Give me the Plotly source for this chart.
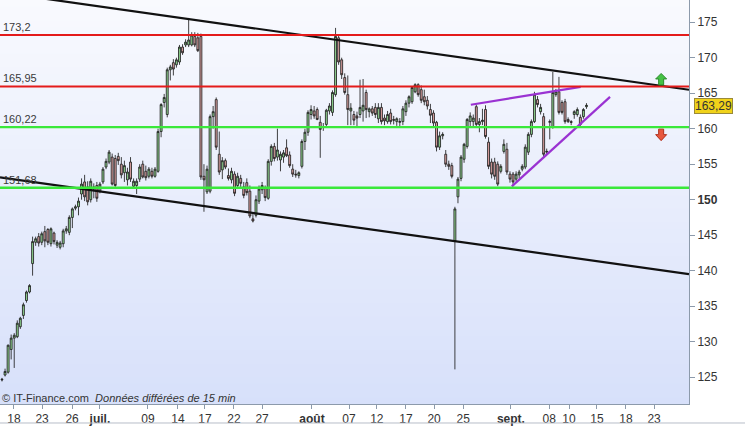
import plotly.graph_objects as go

# ---------------- data ----------------
opens = [124.6, 125.3, 125.7, 128.9, 130.5, 130.7, 132.1, 133.7, 135.8, 137.0,
         141.0, 144.0, 144.8, 144.0, 145.5, 145.8, 143.8, 145.3, 143.6, 143.3,
         143.8, 145.6, 145.4, 147.5, 148.8, 149.0, 150.8, 152.5, 151.8, 150.0,
         151.5, 152.0, 151.2, 152.5, 154.6, 155.3, 156.0, 155.8, 156.1, 155.0,
         153.8, 152.8, 155.3, 151.9, 152.0, 152.9, 155.0, 154.0, 153.3, 154.0,
         153.3, 154.0, 159.6, 163.7, 162.0, 168.3, 169.3, 169.0, 169.4, 171.5,
         171.8, 171.8, 171.8, 173.0, 172.8, 173.0, 153.3, 151.1, 151.2, 161.7,
         164.1, 156.4, 154.2, 155.5, 153.4, 152.8, 153.6, 152.0, 153.0, 151.8,
         152.4, 151.2, 147.3, 147.8, 149.8, 151.4, 151.6, 150.2, 155.4, 157.5,
         156.0, 155.6, 156.0, 157.3, 156.3, 154.3, 153.6, 153.4, 154.7, 158.2,
         159.5, 162.0, 162.5, 162.7, 160.9, 160.2, 160.6, 162.5, 162.3, 164.8,
         172.8, 169.7, 167.2, 164.8, 162.5, 162.0, 161.8, 162.0, 162.5, 165.1,
         162.4, 162.8, 163.0, 161.4, 163.0, 161.5, 161.0, 162.2, 161.3, 161.0,
         160.9, 161.0, 162.4, 163.6, 163.8, 165.2, 166.2, 165.5, 164.5, 164.0,
         162.7, 162.2, 160.9, 157.4, 159.0, 156.4, 155.0, 154.8, 144.2, 150.4,
         153.0, 155.7, 157.5, 161.0, 161.0, 163.1, 160.6, 161.0, 162.7, 158.1,
         155.3, 155.3, 155.0, 154.0, 156.8, 157.1, 153.6, 153.6, 152.9, 153.5,
         154.3, 154.6, 156.7, 159.2, 161.0, 164.1, 162.4, 161.7, 156.7, 160.9,
         160.3, 164.8, 165.2, 163.7, 163.8, 161.3, 161.0, 162.0, 162.0, 161.6,
         161.7, 163.1]
highs = [124.9, 126.2, 129.6, 131.0, 131.2, 133.0, 133.5, 135.5, 137.2, 138.1,
         144.8, 144.8, 145.3, 145.5, 146.3, 146.0, 146.1, 145.5, 144.3, 144.2,
         145.9, 146.3, 147.8, 148.9, 149.3, 150.3, 153.0, 153.5, 152.6, 153.0,
         152.3, 152.5, 152.5, 154.6, 155.8, 157.0, 156.5, 156.3, 156.6, 156.0,
         155.5, 154.5, 156.0, 153.0, 153.0, 155.0, 155.5, 154.8, 154.6, 154.5,
         154.6, 160.0, 163.6, 164.9, 168.6, 169.0, 169.8, 170.0, 171.8, 171.9,
         172.6, 175.6, 173.6, 173.6, 173.5, 173.4, 155.0, 154.8, 162.0, 163.2,
         164.4, 159.6, 156.0, 155.8, 154.4, 154.5, 154.0, 153.8, 153.5, 152.5,
         153.0, 152.0, 148.2, 150.6, 152.0, 152.5, 152.0, 155.7, 157.8, 158.0,
         160.0, 156.8, 157.0, 158.5, 156.8, 155.0, 154.2, 154.0, 158.5, 160.0,
         162.6, 163.3, 163.2, 163.0, 161.8, 160.8, 162.8, 163.6, 165.4, 174.2,
         173.2, 170.0, 167.8, 167.5, 163.6, 162.5, 162.4, 166.9, 167.0, 165.5,
         163.0, 163.2, 163.6, 163.6, 163.6, 162.0, 162.5, 162.8, 161.8, 161.6,
         161.5, 163.2, 164.0, 164.7, 166.0, 166.4, 166.4, 166.1, 165.5, 164.6,
         163.5, 162.6, 161.1, 159.6, 159.5, 157.0, 155.5, 155.2, 149.0, 153.2,
         156.3, 158.0, 161.5, 162.3, 162.0, 163.4, 161.5, 162.8, 163.3, 158.8,
         155.8, 155.9, 155.4, 155.0, 158.5, 158.0, 154.0, 153.9, 154.0, 154.2,
         155.0, 157.8, 159.5, 161.3, 165.2, 164.6, 163.5, 162.2, 157.2, 161.3,
         168.0, 165.6, 167.3, 164.0, 164.2, 161.6, 161.2, 162.6, 163.0, 162.0,
         162.9, 163.6]
lows = [124.4, 125.1, 125.5, 127.5, 126.3, 130.5, 131.8, 133.2, 135.5, 136.8,
        139.3, 143.5, 143.4, 143.6, 143.3, 143.6, 143.4, 143.7, 143.2, 143.0,
        143.3, 145.2, 145.0, 146.0, 148.5, 147.8, 150.0, 149.8, 149.2, 149.6,
        150.2, 149.7, 150.9, 152.2, 154.3, 155.0, 152.0, 151.8, 154.9, 153.0,
        152.5, 152.0, 152.5, 151.7, 150.8, 152.5, 153.0, 152.7, 153.0, 153.0,
        153.1, 153.8, 158.8, 163.0, 161.6, 166.8, 167.5, 168.6, 169.0, 170.4,
        171.5, 171.5, 171.6, 171.5, 170.8, 152.8, 148.3, 150.8, 150.9, 160.0,
        157.0, 153.5, 152.9, 154.3, 152.7, 152.3, 150.5, 151.5, 151.8, 150.2,
        150.6, 147.4, 146.8, 147.5, 149.4, 150.8, 149.8, 150.0, 154.8, 155.4,
        155.5, 154.0, 155.2, 156.0, 154.5, 153.2, 153.1, 153.0, 154.4, 157.0,
        159.0, 161.3, 161.4, 161.2, 155.9, 159.7, 160.3, 162.0, 161.8, 164.5,
        169.0, 167.0, 164.8, 160.5, 160.5, 160.5, 160.2, 161.5, 161.0, 161.5,
        161.6, 161.8, 161.5, 160.8, 160.6, 160.5, 160.7, 160.6, 160.6, 160.4,
        160.3, 160.5, 161.8, 163.0, 163.5, 165.0, 164.5, 163.6, 163.3, 162.7,
        160.8, 160.3, 156.8, 157.0, 158.5, 154.6, 154.2, 153.0, 126.1, 149.5,
        152.6, 155.2, 157.2, 160.2, 160.1, 160.3, 159.5, 160.5, 158.6, 154.3,
        153.0, 152.8, 151.9, 153.7, 156.5, 153.5, 152.4, 151.9, 152.6, 153.0,
        154.0, 154.3, 156.3, 158.8, 160.8, 163.0, 162.0, 156.0, 156.4, 158.5,
        160.0, 164.5, 162.0, 162.0, 160.7, 160.8, 160.5, 161.4, 161.7, 160.4,
        161.4, 162.8]
closes = [124.7, 125.8, 129.5, 130.5, 130.9, 132.6, 133.3, 135.2, 137.0, 137.9,
          144.1, 144.5, 143.9, 145.2, 144.2, 144.0, 145.9, 144.1, 144.0, 143.9,
          145.6, 145.9, 147.5, 148.7, 149.0, 149.8, 152.2, 150.4, 149.7, 152.6,
          151.8, 150.2, 152.2, 154.3, 155.4, 156.7, 152.2, 152.0, 155.5, 153.5,
          154.8, 153.9, 152.9, 152.6, 152.6, 154.6, 153.2, 153.1, 154.3, 153.3,
          154.3, 159.6, 163.4, 164.4, 168.3, 168.7, 168.4, 169.7, 171.5, 170.7,
          172.2, 172.5, 173.2, 171.8, 171.0, 153.2, 152.8, 154.3, 161.7, 162.4,
          157.4, 153.9, 155.5, 154.6, 153.0, 154.0, 150.9, 153.3, 152.3, 150.6,
          151.0, 147.7, 147.0, 150.0, 151.5, 152.0, 150.3, 155.4, 157.5, 155.8,
          157.0, 156.4, 156.6, 156.2, 154.8, 153.6, 153.5, 153.8, 158.2, 159.5,
          162.3, 162.7, 161.8, 161.3, 159.9, 160.3, 162.6, 163.2, 165.1, 173.0,
          169.4, 167.6, 165.1, 162.7, 162.9, 161.2, 161.5, 163.0, 163.3, 162.7,
          162.8, 162.2, 162.0, 163.0, 161.0, 161.1, 162.0, 161.0, 161.2, 161.4,
          161.0, 162.8, 163.6, 164.5, 165.8, 166.2, 164.8, 164.0, 163.8, 163.2,
          161.9, 160.8, 157.4, 159.0, 159.2, 155.0, 154.7, 153.3, 148.7, 152.9,
          156.0, 157.8, 161.3, 161.8, 161.5, 160.6, 161.0, 161.2, 158.9, 154.7,
          153.6, 153.3, 152.2, 154.7, 157.8, 153.9, 152.9, 152.5, 153.6, 153.9,
          154.7, 157.4, 159.2, 161.0, 164.8, 163.4, 163.0, 156.4, 156.8, 161.0,
          165.1, 165.2, 162.3, 162.3, 161.0, 161.0, 160.9, 162.4, 162.7, 160.6,
          162.7, 163.29]
sessions = list(range(len(opens)))

red_levels = [173.2, 165.95]
green_levels = [160.22, 151.68]
level_texts = {173.2: "173,2", 165.95: "165,95", 160.22: "160,22", 151.68: "151,68"}

upper_trend_x = [61, 180]
upper_trend_y = [175.45, 168.2]
lower_trend_x = [0, 148]
lower_trend_y = [153.1, 144.15]
purple_top_x = [153.2, 189.1]
purple_top_y = [163.37, 165.89]
purple_bottom_x = [166.6, 198.7]
purple_bottom_y = [151.87, 164.49]

arrow_session = 215.4

tick_sessions = [3.9, 13.1, 22.9, 32.0, 47.7, 57.5, 66.3, 75.8, 85.0, 101.3, 113.4,
                 122.5, 132.0, 141.2, 150.7, 166.3, 178.8, 185.3, 194.4, 203.9, 213.1]
tick_labels = ["18", "23", "26", "juil.", "09", "14", "17", "22", "27", "août", "07",
               "12", "17", "20", "25", "sept.", "08", "10", "15", "18", "23"]
month_labels = ["juil.", "août", "sept."]

y_ticks = [125, 130, 135, 140, 145, 150, 155, 160, 165, 170, 175]
last_price = 163.29

X_RANGE = [-0.65, 224.5]
Y_RANGE = [121.22, 178.13]

# ---------------- figure ----------------
fig = go.Figure()

fig.add_trace(go.Candlestick(
    x=sessions, open=opens, high=highs, low=lows, close=closes,
    increasing=dict(fillcolor="#8fd48f", line=dict(color="#202020", width=0.85)),
    decreasing=dict(fillcolor="#dba0a0", line=dict(color="#202020", width=0.85)),
    whiskerwidth=0, showlegend=False, hoverinfo="skip",
))


def extend(xs, ys):
    slope = (ys[1] - ys[0]) / (xs[1] - xs[0])
    return [X_RANGE[0], X_RANGE[1]], [ys[0] + slope * (X_RANGE[0] - xs[0]),
                                      ys[0] + slope * (X_RANGE[1] - xs[0])]


for xs, ys in [(upper_trend_x, upper_trend_y), (lower_trend_x, lower_trend_y)]:
    ex, ey = extend(xs, ys)
    fig.add_trace(go.Scatter(x=ex, y=ey, mode="lines", line=dict(color="#111111", width=2.2),
                             showlegend=False, hoverinfo="skip"))

for xs, ys in [(purple_top_x, purple_top_y), (purple_bottom_x, purple_bottom_y)]:
    fig.add_trace(go.Scatter(x=xs, y=ys, mode="lines", line=dict(color="#9a32d2", width=2.2),
                             showlegend=False, hoverinfo="skip"))

shapes = []
# gradient background of the plot area
top_rgb = (249, 250, 254)
bot_rgb = (215, 224, 250)
n_bands = 60
for k in range(n_bands):
    t = (k + 0.5) / n_bands
    c = tuple(round(bot_rgb[i] + (top_rgb[i] - bot_rgb[i]) * t) for i in range(3))
    shapes.append(dict(type="rect", xref="x domain", yref="y domain",
                       x0=0, x1=1, y0=k / n_bands, y1=(k + 1) / n_bands + 0.002,
                       fillcolor="rgb(%d,%d,%d)" % c, line=dict(width=0), layer="below"))

for lv in red_levels:
    shapes.append(dict(type="line", xref="x domain", yref="y", x0=0, x1=1, y0=lv, y1=lv,
                       line=dict(color="#e41b1b", width=2), layer="above"))
for lv in green_levels:
    shapes.append(dict(type="line", xref="x domain", yref="y", x0=0, x1=1, y0=lv, y1=lv,
                       line=dict(color="#3ae83a", width=2.4), layer="above"))

# arrows
shapes.append(dict(type="path", xref="x", yref="y", xsizemode="pixel", ysizemode="pixel",
                   xanchor=arrow_session, yanchor=red_levels[1],
                   path="M 0,13 L 5.5,7.5 L 2.5,7.5 L 2.5,1.5 L -2.5,1.5 L -2.5,7.5 L -5.5,7.5 Z",
                   fillcolor="#45c245", line=dict(color="#2c8a2c", width=1)))
shapes.append(dict(type="path", xref="x", yref="y", xsizemode="pixel", ysizemode="pixel",
                   xanchor=arrow_session, yanchor=green_levels[0],
                   path="M -2.5,-2 L 2.5,-2 L 2.5,-7.5 L 5.5,-7.5 L 0,-13.5 L -5.5,-7.5 L -2.5,-7.5 Z",
                   fillcolor="#e8583e", line=dict(color="#b0301e", width=1)))

# bottom frame line
shapes.append(dict(type="line", xref="paper", yref="paper", x0=-0.01, x1=1.09,
                   y0=-0.047, y1=-0.047, line=dict(color="#b8bec8", width=1)))

annotations = []
for lv, txt in level_texts.items():
    annotations.append(dict(x=0.002, xref="paper", y=lv, yref="y", text=txt,
                            xanchor="left", yanchor="bottom", yshift=0, showarrow=False,
                            font=dict(family="Liberation Sans, Arial", size=11, color="#3a3a3a")))

annotations.append(dict(x=0.0, xref="paper", y=0.016, yref="paper",
                        text="© IT-Finance.com  <i>Données différées de 15 min</i>",
                        xanchor="left", yanchor="middle", showarrow=False,
                        font=dict(family="Liberation Sans, Arial", size=11, color="#333333")))

annotations.append(dict(x=1.0075, xref="paper", y=last_price, yref="y", yshift=-1,
                        text="163,29", xanchor="left", yanchor="middle", showarrow=False,
                        bgcolor="#f0d21a", bordercolor="#9a8a3a", borderwidth=1, borderpad=0,
                        font=dict(family="Liberation Sans, Arial", size=12, color="#333333")))

ticktext_x = ["<b>%s</b>" % t if t in month_labels else t for t in tick_labels]
ticktext_y = ["<b>%d</b>" % v if v == 150 else str(v) for v in y_ticks]

fig.update_layout(
    width=745, height=426,
    margin=dict(l=0, r=56, t=0, b=20),
    paper_bgcolor="white", plot_bgcolor="#eef1fb",
    shapes=shapes, annotations=annotations,
    font=dict(family="Liberation Sans, Arial", size=12, color="#333333"),
    showlegend=False, boxgap=0.1,
    xaxis=dict(range=X_RANGE, tickmode="array", tickvals=tick_sessions, ticktext=ticktext_x,
               showgrid=False, zeroline=False, showline=True, linecolor="#8c9aab", linewidth=1,
               ticks="outside", ticklen=4, tickcolor="#8c9aab", rangeslider=dict(visible=False),
               tickfont=dict(size=12, color="#333333"), fixedrange=True),
    yaxis=dict(range=Y_RANGE, side="right", tickmode="array", tickvals=y_ticks, ticktext=ticktext_y,
               showgrid=False, zeroline=False, showline=True, linecolor="#8c9aab", linewidth=1,
               ticks="outside", ticklen=5, tickcolor="#8c9aab",
               tickfont=dict(size=12, color="#333333"), fixedrange=True),
)

fig.write_html("out.html", config=dict(displayModeBar=False),
               post_script="document.body.style.margin='0';document.body.style.padding='0';"
                           "document.body.style.overflow='hidden';")
